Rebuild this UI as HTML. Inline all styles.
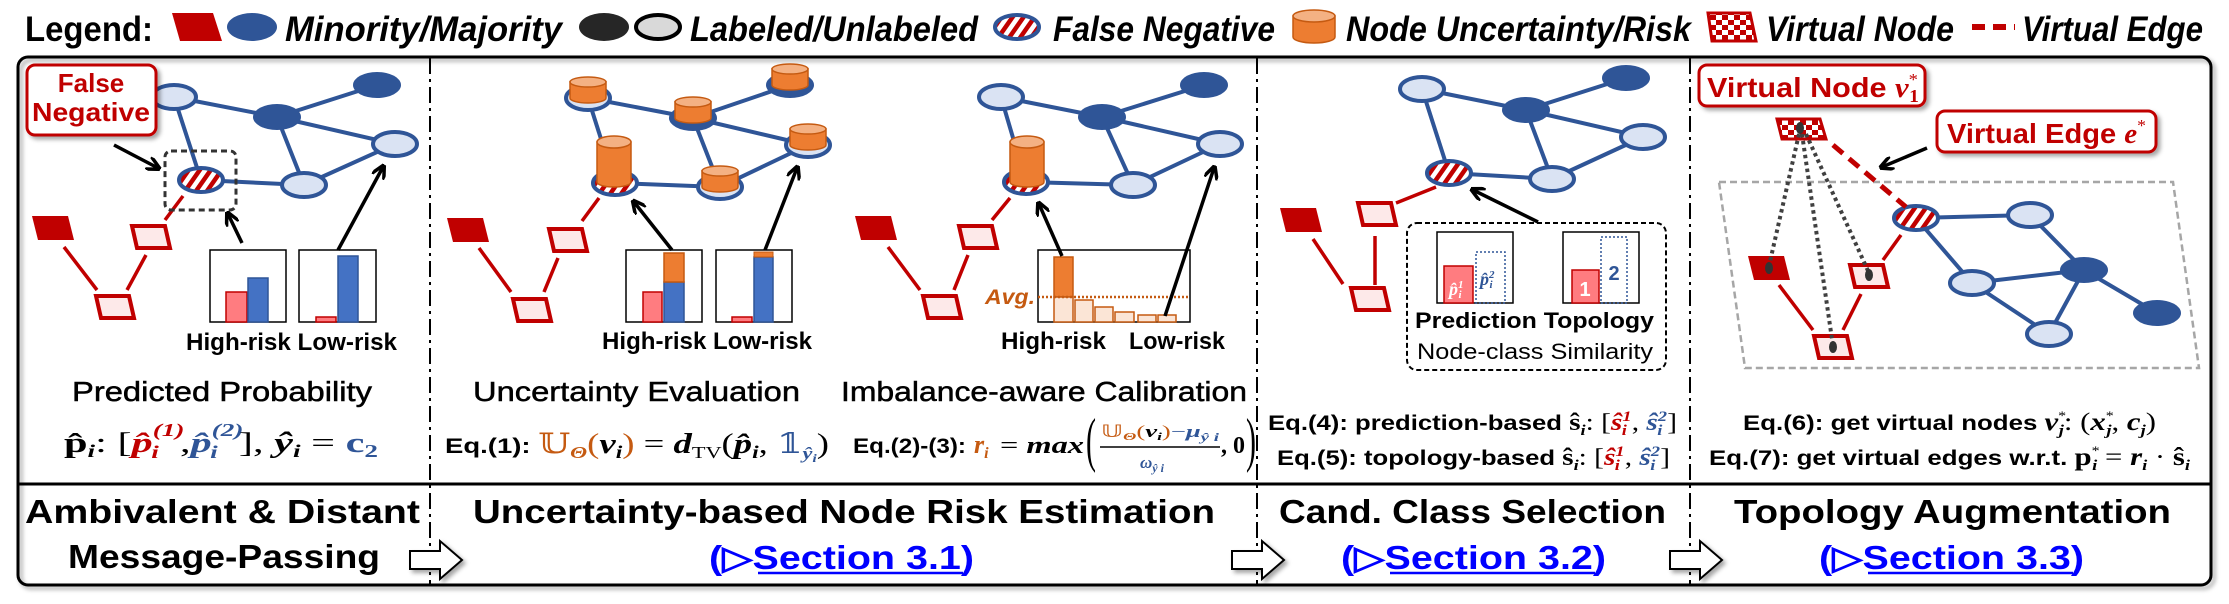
<!DOCTYPE html>
<html><head><meta charset="utf-8">
<style>
html,body{margin:0;padding:0;background:#fff;}
svg{display:block;}
.b{font-family:"Liberation Sans",sans-serif;font-weight:bold;}
.bi{font-family:"Liberation Sans",sans-serif;font-weight:bold;font-style:italic;}
.m{font-family:"Liberation Serif","DejaVu Serif",serif;font-style:italic;font-weight:bold;}
.mr{font-family:"Liberation Serif","DejaVu Serif",serif;}
</style></head><body>
<svg width="2229" height="604" viewBox="0 0 2229 604" xmlns="http://www.w3.org/2000/svg">
<defs>
<pattern id="hatch" width="9" height="9" patternUnits="userSpaceOnUse" patternTransform="rotate(35)"><rect width="9" height="9" fill="#fff"/><rect width="4.5" height="9" fill="#c00000"/></pattern>
<pattern id="chk" width="12" height="10" patternUnits="userSpaceOnUse"><rect width="12" height="10" fill="#fff"/><rect width="6" height="5" fill="#c00000"/><rect x="6" y="5" width="6" height="5" fill="#c00000"/></pattern>
<filter id="sh" x="-20%" y="-20%" width="140%" height="150%"><feDropShadow dx="3" dy="3" stdDeviation="2" flood-color="#000" flood-opacity="0.35"/></filter>
<marker id="ah" viewBox="0 0 10 10" refX="8" refY="5" markerWidth="4" markerHeight="4" orient="auto"><path d="M0,0 L10,5 L0,10" fill="none" stroke="#000" stroke-width="2.5"/></marker>
<g id="L"><ellipse rx="22" ry="12" fill="#dae3f3" stroke="#2f5597" stroke-width="4"/></g>
<g id="D"><ellipse rx="24" ry="13" fill="#2f5597"/></g>
<g id="H"><ellipse rx="22" ry="12" fill="url(#hatch)" stroke="#2f5597" stroke-width="4"/></g>
<g id="RF"><polygon points="-21,-12 15,-12 21,12 -15,12" fill="#c00000"/></g>
<g id="RL"><polygon points="-19,-11 14,-11 19,11 -14,11" fill="#fde9e9" stroke="#c00000" stroke-width="4"/></g>
<g id="CS"><path d="M-18,-18 L-18,-2 A18,5 0 0 0 18,-2 L18,-18 Z" fill="#ed7d31" stroke="#c55a11" stroke-width="1.5"/><ellipse cy="-18" rx="18" ry="5" fill="#f4b183" stroke="#c55a11" stroke-width="1.5"/></g>
<g id="CT"><path d="M-17,-42 L-17,-2 A17,5 0 0 0 17,-2 L17,-42 Z" fill="#ed7d31" stroke="#c55a11" stroke-width="1.5"/><ellipse cy="-42" rx="17" ry="6" fill="#f4b183" stroke="#c55a11" stroke-width="1.5"/></g>
<g id="BA"><path d="M0,-9 L30,-9 L30,-19 L52,0 L30,19 L30,9 L0,9 Z" fill="#fff" stroke="#000" stroke-width="2"/></g>
</defs>

<!-- Legend -->
<text class="b" x="25" y="41" font-size="35" textLength="128" lengthAdjust="spacingAndGlyphs">Legend:</text>
<polygon points="172,13 213,13 222,41 180,41" fill="#c00000"/>
<ellipse cx="252" cy="27" rx="25" ry="14" fill="#2f5597"/>
<text class="bi" x="285" y="41" font-size="35" textLength="277" lengthAdjust="spacingAndGlyphs">Minority/Majority</text>
<ellipse cx="604" cy="27" rx="25" ry="14" fill="#262626"/>
<ellipse cx="658" cy="27" rx="22" ry="12" fill="#d9d9d9" stroke="#000" stroke-width="4"/>
<text class="bi" x="690" y="41" font-size="35" textLength="288" lengthAdjust="spacingAndGlyphs">Labeled/Unlabeled</text>
<ellipse cx="1017" cy="27" rx="22" ry="12" fill="url(#hatch)" stroke="#2f5597" stroke-width="4"/>
<text class="bi" x="1053" y="41" font-size="35" textLength="222" lengthAdjust="spacingAndGlyphs">False Negative</text>
<path d="M1293,16 L1293,37 A21,6 0 0 0 1335,37 L1335,16 Z" fill="#ed7d31" stroke="#c55a11" stroke-width="1.5"/>
<ellipse cx="1314" cy="16" rx="21" ry="6" fill="#f4b183" stroke="#c55a11" stroke-width="1.5"/>
<text class="bi" x="1346" y="41" font-size="35" textLength="345" lengthAdjust="spacingAndGlyphs">Node Uncertainty/Risk</text>
<polygon points="1708,13 1750,13 1756,41 1712,41" fill="url(#chk)" stroke="#c00000" stroke-width="3"/>
<text class="bi" x="1766" y="41" font-size="35" textLength="188" lengthAdjust="spacingAndGlyphs">Virtual Node</text>
<line x1="1972" y1="27" x2="2015" y2="27" stroke="#c00000" stroke-width="6" stroke-dasharray="13,8"/>
<text class="bi" x="2022" y="41" font-size="35" textLength="181" lengthAdjust="spacingAndGlyphs">Virtual Edge</text>

<!-- Outer box -->
<rect x="18" y="57" width="2193" height="528" rx="10" fill="none" stroke="#000" stroke-width="3" filter="url(#sh)"/>
<line x1="18" y1="484" x2="2211" y2="484" stroke="#000" stroke-width="3"/>
<g stroke="#000" stroke-width="2" stroke-dasharray="16,5,3,5">
<line x1="430" y1="58" x2="430" y2="584"/>
<line x1="1257" y1="58" x2="1257" y2="584"/>
<line x1="1690" y1="58" x2="1690" y2="584"/>
</g>

<!-- ===== Panel 1 ===== -->
<g stroke="#2f5597" stroke-width="4">
<line x1="174" y1="97" x2="277" y2="117"/><line x1="277" y1="117" x2="377" y2="85"/>
<line x1="277" y1="117" x2="395" y2="144"/><line x1="174" y1="97" x2="201" y2="180"/>
<line x1="277" y1="117" x2="304" y2="185"/><line x1="201" y1="180" x2="304" y2="185"/>
<line x1="304" y1="185" x2="395" y2="144"/>
</g>
<g stroke="#c00000" stroke-width="3.5">
<line x1="183" y1="196" x2="165" y2="220"/><line x1="64" y1="247" x2="97" y2="290"/><line x1="146" y1="255" x2="127" y2="290"/>
</g>
<use href="#L" x="174" y="97"/><use href="#D" x="377" y="85"/><use href="#D" x="277" y="117"/>
<use href="#L" x="395" y="144"/><use href="#H" x="201" y="180"/><use href="#L" x="304" y="185"/>
<use href="#RF" x="53" y="228"/><use href="#RL" x="151" y="237"/><use href="#RL" x="115" y="307"/>
<rect x="165" y="151" width="71" height="59" rx="6" fill="none" stroke="#333" stroke-width="3" stroke-dasharray="6,4"/>
<rect x="27" y="65" width="129" height="70" rx="8" fill="#fff" stroke="#c00000" stroke-width="3" filter="url(#sh)"/>
<text class="b" x="91" y="92" font-size="26" fill="#c00000" text-anchor="middle">False</text>
<text class="b" x="91" y="121" font-size="26" fill="#c00000" text-anchor="middle" textLength="118" lengthAdjust="spacingAndGlyphs">Negative</text>
<line x1="114" y1="145" x2="158" y2="168" stroke="#000" stroke-width="3.5" marker-end="url(#ah)"/>
<rect x="210" y="250" width="76" height="72" fill="#fff" stroke="#000" stroke-width="1.5"/>
<rect x="226" y="292" width="21" height="30" fill="#ff7c80" stroke="#c00000" stroke-width="1.5"/>
<rect x="248" y="278" width="20" height="44" fill="#4472c4" stroke="#2f5597" stroke-width="1.5"/>
<rect x="299" y="250" width="77" height="72" fill="#fff" stroke="#000" stroke-width="1.5"/>
<rect x="316" y="317" width="20" height="5" fill="#ff7c80" stroke="#c00000" stroke-width="1.5"/>
<rect x="338" y="256" width="20" height="66" fill="#4472c4" stroke="#2f5597" stroke-width="1.5"/>
<line x1="242" y1="243" x2="228" y2="214" stroke="#000" stroke-width="3.5" marker-end="url(#ah)"/>
<line x1="338" y1="250" x2="383" y2="167" stroke="#000" stroke-width="3.5" marker-end="url(#ah)"/>
<text class="b" x="186" y="350" font-size="24" textLength="211" lengthAdjust="spacingAndGlyphs">High-risk Low-risk</text>
<text x="72" y="401" font-size="28" font-family="Liberation Sans,sans-serif" stroke="#000" stroke-width="0.5" textLength="300" lengthAdjust="spacingAndGlyphs">Predicted Probability</text>
<text x="64" y="452" font-size="28" textLength="314" lengthAdjust="spacingAndGlyphs"><tspan class="mr" font-weight="bold">p̂</tspan><tspan class="m" font-size="18" dy="5">i</tspan><tspan class="mr" dy="-5">: [</tspan><tspan class="m" fill="#c00000">p̂</tspan><tspan class="m" fill="#c00000" font-size="18" dy="-16">(1)</tspan><tspan class="m" fill="#c00000" font-size="18" dx="-22" dy="22">i</tspan><tspan class="mr" dx="14" dy="-6">,</tspan><tspan class="m" fill="#2f5597">p̂</tspan><tspan class="m" fill="#2f5597" font-size="18" dy="-16">(2)</tspan><tspan class="m" fill="#2f5597" font-size="18" dx="-22" dy="22">i</tspan><tspan class="mr" dx="14" dy="-6">], </tspan><tspan class="m">ŷ</tspan><tspan class="m" font-size="18" dy="5">i</tspan><tspan class="mr" dy="-5"> = </tspan><tspan class="mr" font-weight="bold" fill="#2f5597">c</tspan><tspan class="mr" font-weight="bold" fill="#2f5597" font-size="18" dy="5">2</tspan></text>

<!-- ===== Panel 2 ===== -->
<g stroke="#2f5597" stroke-width="4">
<line x1="588" y1="98" x2="693" y2="118"/><line x1="693" y1="118" x2="790" y2="85"/>
<line x1="693" y1="118" x2="808" y2="145"/><line x1="588" y1="98" x2="615" y2="183"/>
<line x1="693" y1="118" x2="720" y2="187"/><line x1="615" y1="183" x2="720" y2="187"/>
<line x1="720" y1="187" x2="808" y2="145"/>
</g>
<g stroke="#c00000" stroke-width="3.5">
<line x1="599" y1="198" x2="582" y2="221"/><line x1="479" y1="248" x2="511" y2="292"/><line x1="558" y1="258" x2="544" y2="292"/>
</g>
<use href="#L" x="588" y="98"/><use href="#D" x="790" y="85"/><use href="#D" x="693" y="118"/>
<use href="#L" x="808" y="145"/><use href="#H" x="615" y="183"/><use href="#L" x="720" y="187"/>
<use href="#CS" x="588" y="100"/><use href="#CS" x="790" y="87"/><use href="#CS" x="693" y="120"/>
<use href="#CS" x="808" y="147"/><use href="#CS" x="720" y="189"/><use href="#CT" x="614" y="184"/>
<use href="#RF" x="468" y="230"/><use href="#RL" x="568" y="240"/><use href="#RL" x="532" y="310"/>
<rect x="626" y="250" width="76" height="72" fill="#fff" stroke="#000" stroke-width="1.5"/>
<rect x="643" y="292" width="19" height="30" fill="#ff7c80" stroke="#c00000" stroke-width="1.5"/>
<rect x="664" y="282" width="20" height="40" fill="#4472c4" stroke="#2f5597" stroke-width="1.5"/>
<rect x="664" y="253" width="20" height="29" fill="#ed7d31" stroke="#c55a11" stroke-width="1.5"/>
<rect x="716" y="250" width="76" height="72" fill="#fff" stroke="#000" stroke-width="1.5"/>
<rect x="732" y="317" width="20" height="5" fill="#ff7c80" stroke="#c00000" stroke-width="1.5"/>
<rect x="754" y="257" width="19" height="65" fill="#4472c4" stroke="#2f5597" stroke-width="1.5"/>
<rect x="754" y="252" width="19" height="5" fill="#ed7d31" stroke="#c55a11" stroke-width="1"/>
<line x1="672" y1="250" x2="634" y2="202" stroke="#000" stroke-width="3.5" marker-end="url(#ah)"/>
<line x1="765" y1="250" x2="797" y2="168" stroke="#000" stroke-width="3.5" marker-end="url(#ah)"/>
<text class="b" x="602" y="349" font-size="24" textLength="210" lengthAdjust="spacingAndGlyphs">High-risk Low-risk</text>
<text x="473" y="401" font-size="28" font-family="Liberation Sans,sans-serif" stroke="#000" stroke-width="0.5" textLength="327" lengthAdjust="spacingAndGlyphs">Uncertainty Evaluation</text>
<text x="445" y="453" font-size="28" textLength="384" lengthAdjust="spacingAndGlyphs"><tspan class="b" font-size="21">Eq.(1): </tspan><tspan class="mr" fill="#c55a11" font-family="DejaVu Sans,sans-serif">𝕌</tspan><tspan class="m" fill="#c55a11" font-size="17" dy="5">Θ</tspan><tspan class="mr" fill="#c55a11" dy="-5">(</tspan><tspan class="m">v</tspan><tspan class="m" font-size="18" dy="5">i</tspan><tspan class="mr" fill="#c55a11" dy="-5">)</tspan><tspan class="mr"> = </tspan><tspan class="m">d</tspan><tspan class="mr" font-size="17" dy="5">TV</tspan><tspan class="mr" dy="-5">(</tspan><tspan class="m">p̂</tspan><tspan class="m" font-size="18" dy="5">i</tspan><tspan class="mr" dy="-5">, </tspan><tspan class="mr" fill="#2f5597" font-family="DejaVu Sans,sans-serif">𝟙</tspan><tspan class="m" fill="#2f5597" font-size="17" dy="6">ŷ</tspan><tspan class="m" fill="#2f5597" font-size="12" dy="3">i</tspan><tspan class="mr" dy="-9">)</tspan></text>

<!-- ===== Panel 3 (calibration) ===== -->
<g stroke="#2f5597" stroke-width="4">
<line x1="1001" y1="97" x2="1102" y2="117"/><line x1="1102" y1="117" x2="1204" y2="85"/>
<line x1="1102" y1="117" x2="1220" y2="144"/><line x1="1001" y1="97" x2="1026" y2="182"/>
<line x1="1102" y1="117" x2="1133" y2="185"/><line x1="1026" y1="182" x2="1133" y2="185"/>
<line x1="1133" y1="185" x2="1220" y2="144"/>
</g>
<g stroke="#c00000" stroke-width="3.5">
<line x1="1010" y1="198" x2="992" y2="220"/><line x1="888" y1="247" x2="920" y2="290"/><line x1="968" y1="255" x2="954" y2="290"/>
</g>
<use href="#L" x="1001" y="97"/><use href="#D" x="1204" y="85"/><use href="#D" x="1102" y="117"/>
<use href="#L" x="1220" y="144"/><use href="#H" x="1026" y="182"/><use href="#L" x="1133" y="185"/>
<use href="#CT" x="1027" y="184"/>
<use href="#RF" x="876" y="228"/><use href="#RL" x="978" y="237"/><use href="#RL" x="942" y="307"/>
<rect x="1038" y="250" width="152" height="72" fill="#fff" stroke="#000" stroke-width="1.5"/>
<g stroke="#c55a11" stroke-width="1.5">
<rect x="1054" y="257" width="19" height="40" fill="#ed7d31"/>
<rect x="1054" y="297" width="19" height="25" fill="#fbe5d6"/>
<rect x="1075" y="300" width="18" height="22" fill="#fbe5d6"/>
<rect x="1095" y="307" width="18" height="15" fill="#fbe5d6"/>
<rect x="1115" y="312" width="19" height="10" fill="#fbe5d6"/>
<rect x="1138" y="315" width="18" height="7" fill="#fbe5d6"/>
<rect x="1158" y="315" width="18" height="7" fill="#fbe5d6"/>
</g>
<line x1="1038" y1="297" x2="1190" y2="297" stroke="#c55a11" stroke-width="2.5" stroke-dasharray="2,2"/>
<text class="bi" x="985" y="304" font-size="21" fill="#c55a11" textLength="50" lengthAdjust="spacingAndGlyphs">Avg.</text>
<line x1="1062" y1="256" x2="1039" y2="204" stroke="#000" stroke-width="3.5" marker-end="url(#ah)"/>
<line x1="1165" y1="316" x2="1214" y2="168" stroke="#000" stroke-width="3.5" marker-end="url(#ah)"/>
<text class="b" x="1001" y="349" font-size="24" textLength="105" lengthAdjust="spacingAndGlyphs">High-risk</text>
<text class="b" x="1129" y="349" font-size="24" textLength="96" lengthAdjust="spacingAndGlyphs">Low-risk</text>
<text x="841" y="401" font-size="28" font-family="Liberation Sans,sans-serif" stroke="#000" stroke-width="0.5" textLength="406" lengthAdjust="spacingAndGlyphs">Imbalance-aware Calibration</text>
<text class="b" x="853" y="453" font-size="21" textLength="113" lengthAdjust="spacingAndGlyphs">Eq.(2)-(3):</text>
<text class="m" x="974" y="453" font-size="26" fill="#c55a11">r<tspan font-size="16" dy="5">i</tspan></text>
<text x="1000" y="453" font-size="24" textLength="84" lengthAdjust="spacingAndGlyphs"><tspan class="mr">= </tspan><tspan class="m">max</tspan></text>
<text class="mr" x="1086" y="460" font-size="60" transform="translate(1086,460) scale(0.5,1) translate(-1086,-460)">(</text>
<text x="1101" y="437" font-size="17" textLength="118" lengthAdjust="spacingAndGlyphs"><tspan fill="#c55a11" font-family="DejaVu Sans,sans-serif">𝕌</tspan><tspan class="m" fill="#c55a11" font-size="11" dy="3">Θ</tspan><tspan class="mr" fill="#c55a11" dy="-3">(</tspan><tspan class="m">v</tspan><tspan class="m" font-size="11" dy="3">i</tspan><tspan class="mr" fill="#c55a11" dy="-3">)</tspan><tspan class="mr" fill="#2f5597">−</tspan><tspan class="m" fill="#2f5597">μ</tspan><tspan class="m" fill="#2f5597" font-size="12" dy="4">ŷ i</tspan></text>
<line x1="1100" y1="447" x2="1220" y2="447" stroke="#000" stroke-width="1.5"/>
<text class="m" x="1140" y="468" font-size="17" fill="#2f5597">ω<tspan font-size="12" dy="4">ŷ i</tspan></text>
<text class="mr" x="1221" y="453" font-size="24" font-weight="bold">, 0</text>
<text class="mr" x="1246" y="460" font-size="60" transform="translate(1246,460) scale(0.5,1) translate(-1246,-460)">)</text>

<!-- ===== Panel 4 ===== -->
<g stroke="#2f5597" stroke-width="4">
<line x1="1422" y1="89" x2="1526" y2="110"/><line x1="1526" y1="110" x2="1626" y2="78"/>
<line x1="1526" y1="110" x2="1643" y2="137"/><line x1="1422" y1="89" x2="1449" y2="173"/>
<line x1="1526" y1="110" x2="1552" y2="179"/><line x1="1449" y1="173" x2="1552" y2="179"/>
<line x1="1552" y1="179" x2="1643" y2="137"/>
</g>
<g stroke="#c00000" stroke-width="3.5">
<line x1="1436" y1="187" x2="1396" y2="203"/><line x1="1313" y1="239" x2="1343" y2="284"/><line x1="1375" y1="236" x2="1375" y2="285"/>
</g>
<use href="#L" x="1422" y="89"/><use href="#D" x="1626" y="78"/><use href="#D" x="1526" y="110"/>
<use href="#L" x="1643" y="137"/><use href="#H" x="1449" y="173"/><use href="#L" x="1552" y="179"/>
<use href="#RF" x="1301" y="220"/><use href="#RL" x="1377" y="214"/><use href="#RL" x="1370" y="299"/>
<rect x="1407" y="223" width="259" height="147" rx="10" fill="none" stroke="#000" stroke-width="2" stroke-dasharray="5,3"/>
<line x1="1538" y1="222" x2="1473" y2="190" stroke="#000" stroke-width="3.5" marker-end="url(#ah)"/>
<rect x="1437" y="232" width="76" height="71" fill="#fff" stroke="#000" stroke-width="1.5"/>
<rect x="1444" y="266" width="29" height="37" fill="#ff7c80" stroke="#c00000" stroke-width="1.5"/>
<rect x="1476" y="252" width="29" height="51" fill="none" stroke="#2f5597" stroke-width="1.5" stroke-dasharray="2,2"/>
<text class="m" x="1449" y="295" font-size="18" fill="#fff">p̂<tspan font-size="11" dy="-7">1</tspan><tspan font-size="11" dx="-5" dy="10">i</tspan></text>
<text class="m" x="1480" y="285" font-size="18" fill="#2f5597">p̂<tspan font-size="11" dy="-7">2</tspan><tspan font-size="11" dx="-5" dy="10">i</tspan></text>
<rect x="1563" y="232" width="76" height="71" fill="#fff" stroke="#000" stroke-width="1.5"/>
<rect x="1572" y="270" width="27" height="33" fill="#ff7c80" stroke="#c00000" stroke-width="1.5"/>
<rect x="1601" y="237" width="26" height="66" fill="none" stroke="#2f5597" stroke-width="1.5" stroke-dasharray="2,2"/>
<text class="b" x="1585" y="296" font-size="20" fill="#fff" text-anchor="middle">1</text>
<text class="b" x="1614" y="280" font-size="20" fill="#2f5597" text-anchor="middle">2</text>
<text class="b" x="1415" y="328" font-size="22" textLength="239" lengthAdjust="spacingAndGlyphs">Prediction  Topology</text>
<text x="1417" y="359" font-size="22" font-family="Liberation Sans,sans-serif" textLength="236" lengthAdjust="spacingAndGlyphs">Node-class Similarity</text>
<text x="1268" y="430" font-size="24" textLength="409" lengthAdjust="spacingAndGlyphs"><tspan class="b" font-size="21">Eq.(4): prediction-based </tspan><tspan class="mr" font-weight="bold">ŝ</tspan><tspan class="m" font-size="15" dy="5">i</tspan><tspan class="mr" dy="-5">: [</tspan><tspan class="m" fill="#c00000">ŝ</tspan><tspan class="m" fill="#c00000" font-size="15" dy="-9">1</tspan><tspan class="m" fill="#c00000" font-size="15" dx="-8" dy="14">i</tspan><tspan class="mr" dx="4" dy="-5">, </tspan><tspan class="m" fill="#2f5597">ŝ</tspan><tspan class="m" fill="#2f5597" font-size="15" dy="-9">2</tspan><tspan class="m" fill="#2f5597" font-size="15" dx="-8" dy="14">i</tspan><tspan class="mr" dx="4" dy="-5">]</tspan></text>
<text x="1277" y="465" font-size="24" textLength="393" lengthAdjust="spacingAndGlyphs"><tspan class="b" font-size="21">Eq.(5): topology-based </tspan><tspan class="mr" font-weight="bold">ŝ</tspan><tspan class="m" font-size="15" dy="5">i</tspan><tspan class="mr" dy="-5">: [</tspan><tspan class="m" fill="#c00000">ŝ</tspan><tspan class="m" fill="#c00000" font-size="15" dy="-9">1</tspan><tspan class="m" fill="#c00000" font-size="15" dx="-8" dy="14">i</tspan><tspan class="mr" dx="4" dy="-5">, </tspan><tspan class="m" fill="#2f5597">ŝ</tspan><tspan class="m" fill="#2f5597" font-size="15" dy="-9">2</tspan><tspan class="m" fill="#2f5597" font-size="15" dx="-8" dy="14">i</tspan><tspan class="mr" dx="4" dy="-5">]</tspan></text>

<!-- ===== Panel 5 ===== -->
<polygon points="1719,182 2173,182 2199,368 1745,368" fill="none" stroke="#a6a6a6" stroke-width="2.5" stroke-dasharray="7,4"/>
<g stroke="#2f5597" stroke-width="4">
<line x1="1916" y1="218" x2="2030" y2="215"/><line x1="2030" y1="215" x2="2084" y2="270"/>
<line x1="1916" y1="218" x2="1972" y2="283"/><line x1="1972" y1="283" x2="2084" y2="270"/>
<line x1="2084" y1="270" x2="2157" y2="313"/><line x1="2084" y1="270" x2="2049" y2="334"/>
<line x1="1972" y1="283" x2="2049" y2="334"/>
</g>
<g stroke="#c00000" stroke-width="3.5">
<line x1="1901" y1="235" x2="1883" y2="260"/><line x1="1779" y1="285" x2="1813" y2="330"/><line x1="1861" y1="294" x2="1843" y2="330"/>
</g>
<use href="#H" x="1916" y="218"/><use href="#L" x="2030" y="215"/><use href="#D" x="2084" y="270"/>
<use href="#L" x="1972" y="283"/><use href="#D" x="2157" y="313"/><use href="#L" x="2049" y="334"/>
<use href="#RF" x="1769" y="268"/><use href="#RL" x="1869" y="276"/><use href="#RL" x="1833" y="347"/>
<line x1="1833" y1="145" x2="1906" y2="207" stroke="#c00000" stroke-width="5" stroke-dasharray="13,8"/>
<polygon points="1777,119 1820,119 1826,139 1782,139" fill="url(#chk)" stroke="#c00000" stroke-width="3"/>
<g stroke="#404040" stroke-width="4" stroke-dasharray="3.5,3.5">
<line x1="1799" y1="134" x2="1769" y2="266"/><line x1="1802" y1="134" x2="1833" y2="346"/><line x1="1806" y1="134" x2="1869" y2="273"/>
</g>
<g fill="#333"><ellipse cx="1800" cy="128" rx="4" ry="6"/><ellipse cx="1769" cy="268" rx="4" ry="6"/><ellipse cx="1869" cy="275" rx="4" ry="6"/><ellipse cx="1833" cy="347" rx="4" ry="6"/></g>
<rect x="1699" y="65" width="226" height="41" rx="8" fill="#fff" stroke="#c00000" stroke-width="3" filter="url(#sh)"/>
<text x="1707" y="97" font-size="28" fill="#c00000" textLength="212" lengthAdjust="spacingAndGlyphs"><tspan class="b">Virtual Node </tspan><tspan class="m">v</tspan><tspan class="mr" font-size="17" dy="-12">*</tspan><tspan class="mr" font-weight="bold" font-size="18" dx="-8" dy="17">1</tspan></text>
<rect x="1937" y="111" width="219" height="41" rx="8" fill="#fff" stroke="#c00000" stroke-width="3" filter="url(#sh)"/>
<text x="1947" y="143" font-size="28" fill="#c00000" textLength="199" lengthAdjust="spacingAndGlyphs"><tspan class="b">Virtual Edge </tspan><tspan class="m">e</tspan><tspan class="mr" font-size="17" dy="-12">*</tspan></text>
<line x1="1927" y1="148" x2="1882" y2="167" stroke="#000" stroke-width="3.5" marker-end="url(#ah)"/>
<text x="1743" y="430" font-size="25" textLength="413" lengthAdjust="spacingAndGlyphs"><tspan class="b" font-size="21">Eq.(6): get virtual nodes </tspan><tspan class="m">v</tspan><tspan class="mr" font-size="13" dy="-10">*</tspan><tspan class="m" font-size="15" dx="-6" dy="15">j</tspan><tspan class="mr" dy="-5">: (</tspan><tspan class="m">x</tspan><tspan class="mr" font-size="13" dy="-10">*</tspan><tspan class="m" font-size="15" dx="-6" dy="15">j</tspan><tspan class="mr" dy="-5">, </tspan><tspan class="m">c</tspan><tspan class="m" font-size="15" dy="5">j</tspan><tspan class="mr" dy="-5">)</tspan></text>
<text x="1709" y="465" font-size="25" textLength="481" lengthAdjust="spacingAndGlyphs"><tspan class="b" font-size="21">Eq.(7): get virtual edges w.r.t. </tspan><tspan class="mr" font-weight="bold">p</tspan><tspan class="mr" font-size="13" dy="-10">*</tspan><tspan class="m" font-size="15" dx="-6" dy="15">i</tspan><tspan class="mr" dy="-5"> = </tspan><tspan class="m">r</tspan><tspan class="m" font-size="15" dy="5">i</tspan><tspan class="mr" dy="-5"> · </tspan><tspan class="mr" font-weight="bold">ŝ</tspan><tspan class="m" font-size="15" dy="5">i</tspan></text>

<!-- ===== Bottom row ===== -->
<text class="b" x="25" y="523" font-size="33" textLength="395" lengthAdjust="spacingAndGlyphs">Ambivalent &amp; Distant</text>
<text class="b" x="68" y="568" font-size="33" textLength="312" lengthAdjust="spacingAndGlyphs">Message-Passing</text>
<use href="#BA" x="410" y="560" filter="url(#sh)"/>
<use href="#BA" x="1232" y="560" filter="url(#sh)"/>
<use href="#BA" x="1670" y="560" filter="url(#sh)"/>
<text class="b" x="473" y="523" font-size="33" textLength="742" lengthAdjust="spacingAndGlyphs">Uncertainty-based Node Risk Estimation</text>
<text class="b" x="1279" y="523" font-size="33" textLength="387" lengthAdjust="spacingAndGlyphs">Cand. Class Selection</text>
<text class="b" x="1734" y="523" font-size="33" textLength="437" lengthAdjust="spacingAndGlyphs">Topology Augmentation</text>
<g fill="#0000ff" class="b" font-size="33">
<text class="b" x="709" y="569" textLength="265" lengthAdjust="spacingAndGlyphs">(▷Section 3.1)</text>
<text class="b" x="1341" y="569" textLength="265" lengthAdjust="spacingAndGlyphs">(▷Section 3.2)</text>
<text class="b" x="1819" y="569" textLength="265" lengthAdjust="spacingAndGlyphs">(▷Section 3.3)</text>
</g>
<g stroke="#0000ff" stroke-width="2.5">
<line x1="758" y1="573" x2="963" y2="573"/><line x1="1390" y1="573" x2="1595" y2="573"/><line x1="1868" y1="573" x2="2073" y2="573"/>
</g>
</svg>
</body></html>
